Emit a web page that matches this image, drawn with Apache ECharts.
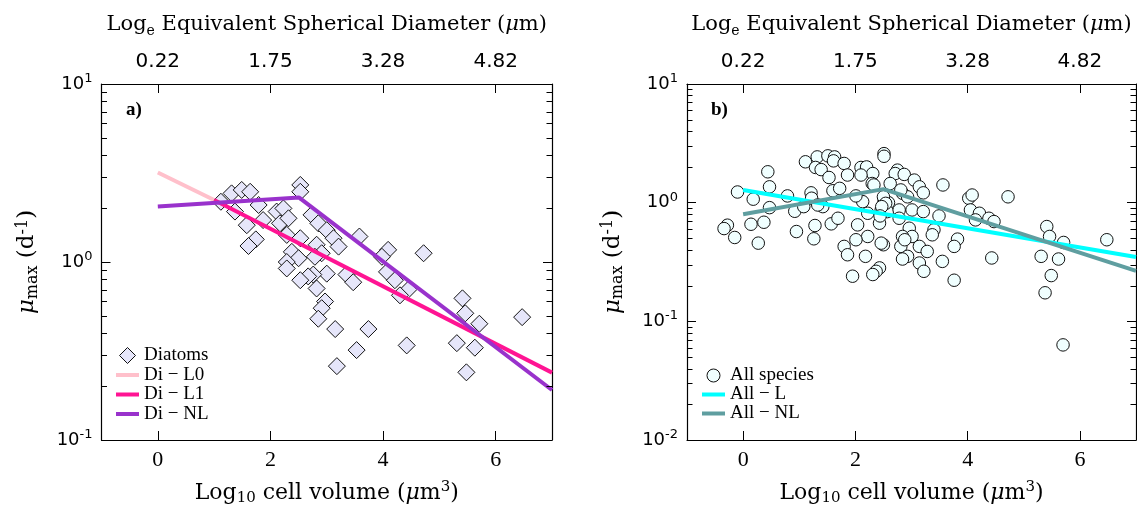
<!DOCTYPE html>
<html><head><meta charset="utf-8">
<script src="https://cdn.jsdelivr.net/npm/echarts@6/dist/echarts.min.js"></script>
<style>html,body{margin:0;padding:0;background:#fff}#c{width:1137px;height:513px}</style>
</head><body><div id="c"></div>
<script>
// ---- data ----
const diatomX = [1.12,1.31,1.49,1.64,1.79,1.37,1.58,1.74,1.61,1.87,2.11,2.23,2.17,2.32,2.29,2.53,2.38,2.50,2.29,2.29,2.53,2.53,2.73,2.85,3.00,3.12,3.21,2.82,2.91,2.79,3.00,2.76,2.67,2.53,2.82,2.97,2.91,2.85,3.15,3.18,3.53,3.74,3.35,3.47,3.58,4.09,4.07,4.21,4.45,4.30,4.72,4.42,3.98,5.41,5.46,5.71,5.31,5.63,5.48,6.47];
const diatomY = [2.18,2.43,2.54,2.48,2.09,1.92,1.61,1.34,1.23,1.72,1.92,2.00,1.65,1.76,1.42,1.36,1.14,1.05,1.00,0.92,2.71,2.48,1.84,1.65,1.51,1.36,1.22,1.25,1.12,1.07,0.86,0.85,0.83,0.79,0.71,0.60,0.55,0.48,0.42,0.26,0.32,0.42,0.85,0.77,1.39,1.17,0.88,0.79,0.70,0.65,1.12,0.34,1.07,0.625,0.515,0.45,0.35,0.33,0.24,0.49];

const allX = [-0.10,-0.28,-0.34,-0.15,0.18,0.14,0.27,0.37,0.44,0.47,0.47,0.79,0.92,0.95,1.08,1.21,1.22,1.28,1.26,1.11,1.32,1.51,1.29,1.39,1.53,1.60,1.42,1.33,1.57,1.63,1.61,1.80,1.86,1.72,2.10,2.20,2.31,2.10,2.30,2.51,2.51,2.75,2.71,2.87,3.05,3.14,3.21,2.62,2.84,2.93,2.13,2.22,2.51,2.59,2.46,2.57,2.78,3.01,3.21,3.49,3.56,4.02,4.08,4.05,1.69,2.04,2.43,2.78,2.96,3.01,2.84,2.50,2.46,2.22,2.01,1.80,1.86,2.18,2.81,2.93,3.14,3.28,3.14,3.22,2.43,2.37,2.31,1.95,3.40,3.37,3.82,3.76,3.55,3.76,4.21,4.14,4.38,4.47,4.72,4.43,5.41,5.46,5.71,5.31,5.62,5.49,5.38,5.70,6.48,2.01,2.33,2.50,2.54,2.81,2.47,2.84,2.44,2.88];
const allY = [1.23,0.646,0.605,0.509,1.07,0.658,0.456,0.684,1.82,1.36,0.908,1.14,0.846,0.571,0.926,1.21,1.09,0.642,0.496,2.21,2.43,2.48,1.98,1.90,1.63,1.26,0.926,0.956,0.663,2.43,2.25,2.14,1.71,1.32,1.98,2.00,1.76,1.71,1.45,2.59,2.46,1.88,1.76,1.73,1.55,1.36,1.21,1.45,1.20,1.12,1.02,0.814,1.02,1.00,0.868,0.841,0.868,0.868,0.841,0.773,1.41,1.09,1.16,0.868,0.739,0.650,0.671,0.739,0.609,0.519,0.519,0.442,0.456,0.519,0.487,0.428,0.364,0.353,0.428,0.353,0.428,0.388,0.310,0.264,0.282,0.264,0.248,0.240,0.590,0.536,0.493,0.428,0.320,0.222,0.814,0.716,0.739,0.693,1.12,0.342,0.629,0.519,0.462,0.353,0.335,0.243,0.174,0.0633,0.487,1.14,1.41,1.12,0.987,1.28,0.926,0.335,0.773,0.487];

const diL0X = [0, 1.0];        const diL0Y = [3.18, 2.23];
const diL1X = [1.0, 7];        const diL1Y = [2.23, 0.239];
const diNLX = [0, 2.51, 7];    const diNLY = [2.05, 2.30, 0.191];
const allLX = [0, 7];          const allLY = [1.28, 0.348];
const allNLX = [0, 2.50, 7];   const allNLY = [0.80, 1.30, 0.266];

const xTickValues = [0, 2, 4, 6];
const topTickLabels = ['0.22', '1.75', '3.28', '4.82'];
const minorTicksA = [0.2,0.3,0.4,0.5,0.6,0.7,0.8,0.9,2,3,4,5,6,7,8,9];
const minorTicksB = [0.02,0.03,0.04,0.05,0.06,0.07,0.08,0.09,0.2,0.3,0.4,0.5,0.6,0.7,0.8,0.9,2,3,4,5,6,7,8,9];

// ---- chart ----
const SERIF = '"Liberation Serif", "DejaVu Serif", serif';
const TSERIF = '"DejaVu Serif", "Liberation Serif", serif';
const SANS = '"DejaVu Sans", sans-serif';
const zip = (xs, ys) => xs.map((x, i) => [x, ys[i]]);

const serifRich = (size, fam) => ({
  n: {fontFamily: fam, fontSize: size, color: '#000', lineHeight: 26},
  it: {fontFamily: fam, fontSize: size, fontStyle: 'italic', color: '#000', lineHeight: 26},
  sub: {fontFamily: fam, fontSize: Math.round(size * 0.68), color: '#000', lineHeight: 14, verticalAlign: 'bottom'},
  sup: {fontFamily: fam, fontSize: Math.round(size * 0.68), color: '#000', lineHeight: 12, verticalAlign: 'top'}
});

function xAxes(g) {
  const common = {
    type: 'value', gridIndex: g, min: -1, max: 7, interval: 1,
    splitLine: {show: false},
    axisLine: {show: true, onZero: false, lineStyle: {color: '#000', width: 1.2}},
    axisTick: {show: true, inside: true, length: 9, customValues: xTickValues, lineStyle: {color: '#000', width: 1}}
  };
  return [
    Object.assign({}, common, {
      position: 'bottom',
      axisLabel: {show: true, customValues: xTickValues, margin: 9, fontFamily: SERIF, fontSize: 22, color: '#000'},
      name: '{n|Log}{sub|10}{n| cell volume (}{it|μ}{n|m}{sup|3}{n|)}',
      nameLocation: 'middle', nameGap: 40,
      nameTextStyle: {fontFamily: TSERIF, fontSize: 22, color: '#000', rich: serifRich(22, TSERIF)}
    }),
    Object.assign({}, common, {
      position: 'top',
      axisLabel: {show: true, customValues: xTickValues, margin: 12, fontFamily: SANS, fontSize: 20, color: '#000',
        formatter: v => topTickLabels[xTickValues.indexOf(v)] || ''},
      name: '{n|Log}{sub|e}{n| Equivalent Spherical Diameter (}{it|μ}{n|m)}',
      nameLocation: 'middle', nameGap: 46,
      nameTextStyle: {fontFamily: TSERIF, fontSize: 21, color: '#000', rich: serifRich(21, TSERIF)}
    })
  ];
}

function yAxes(g, min) {
  const common = {
    type: 'log', logBase: 10, gridIndex: g, min: min, max: 10,
    splitLine: {show: false},
    axisLine: {show: true, onZero: false, lineStyle: {color: '#000', width: 1.2}},
    axisTick: {show: true, inside: true, length: 9, lineStyle: {color: '#000', width: 1}}
  };
  return [
    Object.assign({}, common, {
      position: 'left',
      axisLabel: {show: true, margin: 9, color: '#000', fontFamily: SANS, fontSize: 18,
        formatter: v => '{b|10}{s|' + Math.round(Math.log10(v)) + '}',
        rich: {
          b: {fontFamily: SANS, fontSize: 18, color: '#000', lineHeight: 24},
          s: {fontFamily: SANS, fontSize: 13, color: '#000', lineHeight: 12, verticalAlign: 'top'}
        }},
      name: '{it|μ}{sub|max}{n| (d}{sup|-1}{n|)}',
      nameLocation: 'middle', nameGap: 61,
      nameTextStyle: {fontFamily: TSERIF, fontSize: 23, color: '#000', rich: serifRich(23, TSERIF)}
    }),
    Object.assign({}, common, {position: 'right', axisLabel: {show: false}})
  ];
}

function minorTickSeries(xi, yi, vals) {
  return {
    type: 'custom', xAxisIndex: xi, yAxisIndex: yi, silent: true, z: 5,
    data: vals.map(v => [-1, v]),
    renderItem: (params, api) => {
      const cs = params.coordSys;
      const y = Math.round(api.coord([-1, api.value(1)])[1]) + 0.5;
      return {type: 'group', children: [
        {type: 'line', shape: {x1: cs.x, y1: y, x2: cs.x + 5.5, y2: y}, style: {stroke: '#000', lineWidth: 1}},
        {type: 'line', shape: {x1: cs.x + cs.width - 5.5, y1: y, x2: cs.x + cs.width, y2: y}, style: {stroke: '#000', lineWidth: 1}}
      ]};
    }
  };
}

const lineSeries = (name, xi, yi, xs, ys, color) => ({
  name, type: 'line', xAxisIndex: xi, yAxisIndex: yi, data: zip(xs, ys),
  symbol: 'none', lineStyle: {color, width: 4}, itemStyle: {color}, z: 4, animation: false
});

const LINE_ICON = 'path://M0,0L23,0L23,4L0,4Z';
const legendCommon = {
  orient: 'vertical', itemWidth: 23, itemTextGap: 4,
  selectedMode: false, padding: 0,
  textStyle: {fontFamily: SERIF, fontSize: 19, color: '#000', lineHeight: 16}
};
const lineItem = name => ({name, icon: LINE_ICON, itemStyle: {borderWidth: 0}});
const markItem = name => ({name, itemStyle: {borderWidth: 1, borderColor: '#111'}});

const option = {
  animation: false,
  backgroundColor: '#fff',
  grid: [
    {left: 101.5, top: 84, width: 450.5, height: 356},
    {left: 687, top: 84, width: 449, height: 356}
  ],
  title: [
    {text: 'a)', left: 126, top: 101, padding: 0, textStyle: {fontFamily: SERIF, fontWeight: 'bold', fontSize: 19, color: '#000'}},
    {text: 'b)', left: 711, top: 101, padding: 0, textStyle: {fontFamily: SERIF, fontWeight: 'bold', fontSize: 19, color: '#000'}}
  ],
  legend: [
    Object.assign({}, legendCommon, {left: 116, top: 346, itemHeight: 16, itemGap: 0.5,
      data: [markItem('Diatoms'), lineItem('Di − L0'), lineItem('Di − L1'), lineItem('Di − NL')]}),
    Object.assign({}, legendCommon, {left: 702, top: 366, itemHeight: 13, itemGap: 0,
      data: [markItem('All species'), lineItem('All − L'), lineItem('All − NL')]})
  ],
  xAxis: [...xAxes(0), ...xAxes(1)],
  yAxis: [...yAxes(0, 0.1), ...yAxes(1, 0.01)],
  series: [
    minorTickSeries(0, 0, minorTicksA),
    minorTickSeries(2, 2, minorTicksB),
    {
      name: 'Diatoms', type: 'scatter', xAxisIndex: 0, yAxisIndex: 0, data: zip(diatomX, diatomY),
      symbol: 'path://M0,-10L10,0L0,10L-10,0Z', symbolKeepAspect: true, symbolSize: 17,
      itemStyle: {color: '#e6e6fa', borderColor: '#111', borderWidth: 1, opacity: 1}, z: 2
    },
    lineSeries('Di − L0', 0, 0, diL0X, diL0Y, '#ffc0cb'),
    lineSeries('Di − L1', 0, 0, diL1X, diL1Y, '#ff1493'),
    lineSeries('Di − NL', 0, 0, diNLX, diNLY, '#9932cc'),
    {
      name: 'All species', type: 'scatter', xAxisIndex: 2, yAxisIndex: 2, data: zip(allX, allY),
      symbol: 'circle', symbolSize: 12.5,
      itemStyle: {color: '#f0ffff', borderColor: '#111', borderWidth: 1, opacity: 1}, z: 2
    },
    lineSeries('All − L', 2, 2, allLX, allLY, '#00ffff'),
    lineSeries('All − NL', 2, 2, allNLX, allNLY, '#5f9ea0')
  ]
};

const chart = echarts.init(document.getElementById('c'));
chart.setOption(option);
</script>
</body></html>
